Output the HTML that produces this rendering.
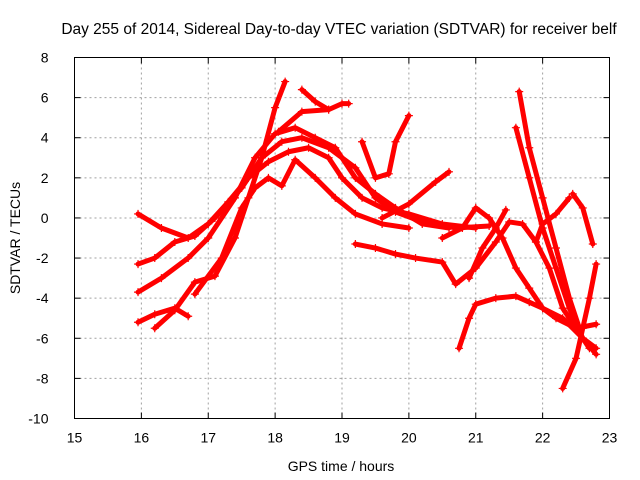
<!DOCTYPE html>
<html><head><meta charset="utf-8"><style>
body{margin:0;background:#fff}
svg{display:block;font-family:"Liberation Sans",sans-serif}
</style></head><body>
<svg id="chart" width="640" height="480">
<text x="339" y="34" font-size="15.5" text-anchor="middle">Day 255 of 2014, Sidereal Day-to-day VTEC variation (SDTVAR) for receiver belf</text>
<text x="341" y="471" font-size="14" text-anchor="middle">GPS time / hours</text>
<text x="20" y="238" font-size="14" text-anchor="middle" transform="rotate(-90 20 238)">SDTVAR / TECUs</text>
<g id="grid"></g><g id="ticks"></g><g id="series"></g>
<rect x="74.5" y="57.5" width="535" height="361" fill="none" stroke="#000"/>
</svg>
<script>
const xTicks=[15,16,17,18,19,20,21,22,23];
const yTicks=[8,6,4,2,0,-2,-4,-6,-8,-10];
const s1x=[15.95,16.3,16.7,17.0,17.3,17.6,17.9,18.2,18.5,18.8,19.0,19.3,19.6,20.0,20.5,21.0];
const s1y=[0.2,-0.5,-1.0,-0.3,0.8,2.0,2.8,3.3,3.5,3.0,2.0,1.0,0.5,0.2,-0.3,-0.5];
const s2x=[15.95,16.2,16.5,16.8,17.1,17.5,17.8,18.1,18.4,18.8,19.2,19.5,19.8,20.2,20.7,21.2];
const s2y=[-2.3,-2.0,-1.2,-0.9,0.0,1.5,3.0,3.8,4.0,3.5,2.5,1.0,0.3,-0.2,-0.5,-0.4];
const s3x=[15.95,16.3,16.7,17.0,17.4,17.7,18.0,18.3,18.6,18.9,19.2,19.5,19.8,20.2,20.6];
const s3y=[-3.7,-3.0,-2.0,-1.0,1.0,3.0,4.2,4.5,4.0,3.5,2.0,1.2,0.5,-0.3,-0.5];
const s4x=[15.95,16.2,16.5,16.7];
const s4y=[-5.2,-4.8,-4.5,-4.9];
const s5x=[16.2,16.5,16.8,17.1,17.4,17.6,17.8,18.0,18.15];
const s5y=[-5.5,-4.6,-3.2,-2.9,-1.0,1.0,3.0,5.5,6.8];
const s6x=[16.8,17.2,17.5,17.7,17.9,18.1,18.3,18.6,18.9,19.2,19.6,20.0];
const s6y=[-3.8,-2.0,0.5,1.5,2.0,1.6,2.9,2.0,1.0,0.2,-0.3,-0.5];
const s7x=[18.05,18.4,18.8,19.0,19.1];
const s7y=[4.3,5.3,5.4,5.7,5.7];
const s8x=[18.4,18.6,18.8];
const s8y=[6.4,5.8,5.4];
const s9x=[19.3,19.5,19.7,19.8,20.0];
const s9y=[3.8,2.0,2.2,3.8,5.1];
const s10x=[19.6,20.0,20.4,20.6];
const s10y=[0.0,0.7,1.8,2.3];
const s11x=[19.2,19.5,19.8,20.1,20.5,20.7,21.0,21.3,21.5,21.7,21.9,22.1,22.3,22.5,22.7];
const s11y=[-1.3,-1.5,-1.8,-2.0,-2.2,-3.3,-2.5,-1.2,-0.2,-0.3,-1.2,-2.5,-4.5,-5.5,-6.5];
const s12x=[20.75,20.9,21.0,21.3,21.6,21.8,22.0,22.3,22.6,22.8];
const s12y=[-6.5,-5.0,-4.3,-4.0,-3.9,-4.2,-4.5,-5.0,-6.0,-6.5];
const s13x=[20.5,20.8,21.0,21.2,21.4,21.6,21.8,22.0,22.2,22.5,22.8];
const s13y=[-1.0,-0.5,0.5,0.0,-1.0,-2.5,-3.5,-4.5,-5.0,-5.5,-5.3];
const s14x=[20.9,21.1,21.3,21.45];
const s14y=[-3.0,-1.5,-0.5,0.4];
const s15x=[21.6,21.8,22.0,22.2,22.4,22.6,22.8];
const s15y=[4.5,2.0,-0.5,-2.5,-4.5,-6.0,-6.8];
const s16x=[21.65,21.8,22.0,22.2,22.4,22.55];
const s16y=[6.3,3.5,1.0,-1.5,-4.0,-5.5];
const s17x=[21.9,22.0,22.2,22.4];
const s17y=[-1.2,-0.3,0.2,1.0];
const s18x=[22.45,22.6,22.75];
const s18y=[1.2,0.5,-1.3];
const s19x=[22.3,22.5,22.6,22.7,22.8];
const s19y=[-8.5,-7.0,-5.5,-4.0,-2.3];
const seriesX=[s1x,s2x,s3x,s4x,s5x,s6x,s7x,s8x,s9x,s10x,s11x,s12x,s13x,s14x,s15x,s16x,s17x,s18x,s19x];
const seriesY=[s1y,s2y,s3y,s4y,s5y,s6y,s7y,s8y,s9y,s10y,s11y,s12y,s13y,s14y,s15y,s16y,s17y,s18y,s19y];
const L=74.5,R=609.5,T=57.5,B=418.5;
const sx=v=>L+(v-15)/(23-15)*(R-L);
const sy=v=>T+(8-v)/(8+10)*(B-T);
const NS="http://www.w3.org/2000/svg";
const grid=document.getElementById('grid'),ticks=document.getElementById('ticks'),ser=document.getElementById('series');
function mk(tag,attrs,parent){const e=document.createElementNS(NS,tag);for(const k in attrs)e.setAttribute(k,attrs[k]);parent.appendChild(e);return e;}
xTicks.forEach(t=>{const x=sx(t);
 if(t>15&&t<23){const g=mk('line',{x1:x,y1:T,x2:x,y2:B,stroke:'#a0a0a0','stroke-dasharray':'2,3'},grid);
 
 }
 mk('line',{x1:x,y1:B,x2:x,y2:B-6,stroke:'#000'},ticks);mk('line',{x1:x,y1:T,x2:x,y2:T+6,stroke:'#000'},ticks);
 const tx=mk('text',{x:x,y:B+24,'font-size':14,'text-anchor':'middle'},ticks);tx.textContent=t;
 
 
});
yTicks.forEach(t=>{const y=sy(t);
 if(t<8&&t>-10){const g=mk('line',{x1:L,y1:y,x2:R,y2:y,stroke:'#a0a0a0','stroke-dasharray':'2,3'},grid);
 
 }
 mk('line',{x1:L,y1:y,x2:L+6,y2:y,stroke:'#000'},ticks);mk('line',{x1:R,y1:y,x2:R-6,y2:y,stroke:'#000'},ticks);
 const tx=mk('text',{x:L-26,y:y+5,'font-size':14,'text-anchor':'end'},ticks);tx.textContent=t;
 
 
});
seriesX.forEach((xs,i)=>{const ys=seriesY[i];
 const pts=xs.map((x,j)=>sx(x)+','+sy(ys[j])).join(' ');
 const pl=mk('polyline',{points:pts,fill:'none',stroke:'#ff0000','stroke-width':5,'stroke-linejoin':'round','stroke-linecap':'round'},ser);
 
 
 xs.forEach((x,j)=>{const px=sx(x),py=sy(ys[j]);
  const p=mk('path',{d:`M${px-4},${py}H${px+4}M${px},${py-4}V${py+4}`,stroke:'#ff0000','stroke-width':1.2},ser);
  
  
 });
});
</script>
</body></html>
